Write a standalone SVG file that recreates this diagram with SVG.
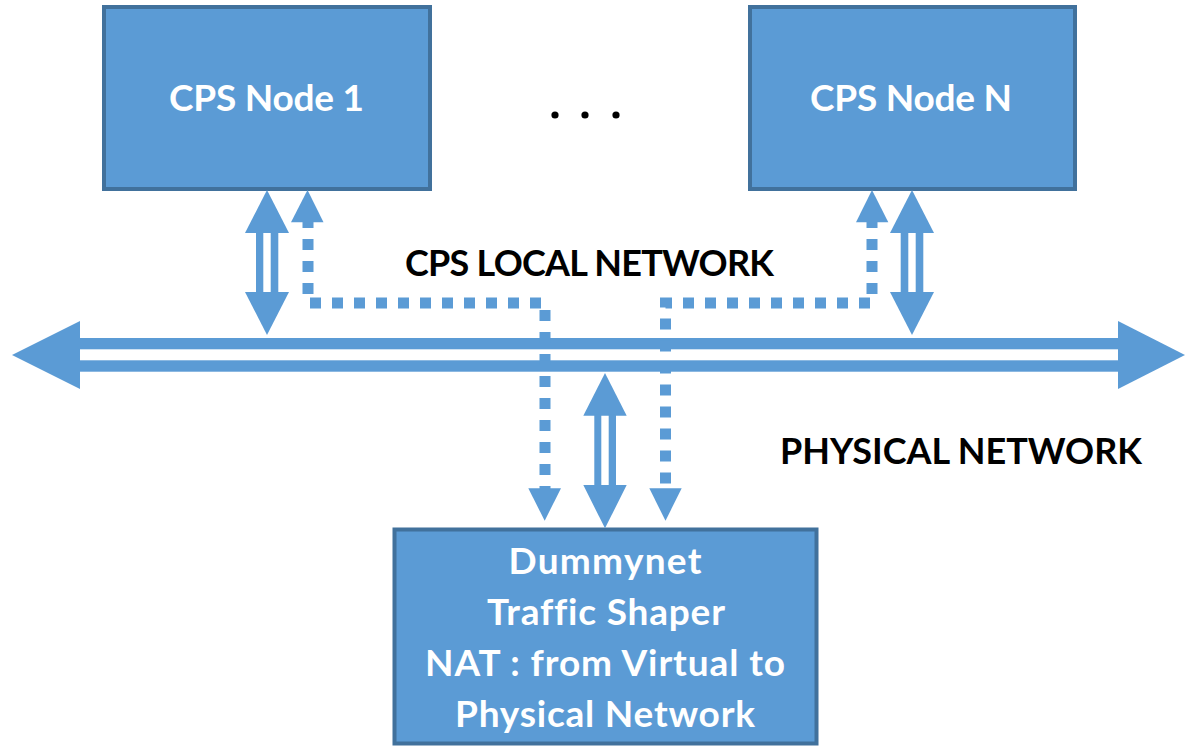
<svg xmlns="http://www.w3.org/2000/svg" width="1195" height="749" viewBox="0 0 1195 749">
<style>
.box{fill:#5B9BD5;stroke:#41719C;stroke-width:4}
.arr{fill:#5B9BD5}
.dot{fill:none;stroke:#5B9BD5;stroke-width:11;stroke-dasharray:11 11}
.wt{font-family:Lato,"Liberation Sans",sans-serif;font-weight:700;fill:#FFFFFF;text-anchor:middle;font-size:37px;font-variant-ligatures:none}
.bt{font-family:Lato,"Liberation Sans",sans-serif;font-weight:700;fill:#000000;font-size:36px}
</style>
<rect width="1195" height="749" fill="#FFFFFF"/>
<g id="node1">
<rect class="box" x="104" y="7" width="326" height="182"/>
<text class="wt" x="266.5" y="111" textLength="195">CPS Node 1</text>
</g>
<g id="nodeN">
<rect class="box" x="750" y="7" width="325" height="182"/>
<text class="wt" x="911" y="111" textLength="202">CPS Node N</text>
</g>
<g id="dummynet">
<rect class="box" x="394.5" y="529.5" width="422" height="214"/>
<text class="wt" x="605" y="574" textLength="193">Dummynet</text>
<text class="wt" x="606" y="625" textLength="238">Traffic Shaper</text>
<text class="wt" x="605" y="676" textLength="360">NAT : from Virtual to</text>
<text class="wt" x="605" y="727" textLength="300">Physical Network</text>
</g>
<g id="ellipsis" fill="#000000">
<circle cx="555" cy="115" r="3.6"/>
<circle cx="585" cy="115" r="3.6"/>
<circle cx="616" cy="115" r="3.6"/>
</g>
<g id="labels">
<text class="bt" x="405" y="275.5" textLength="369">CPS LOCAL NETWORK</text>
<text class="bt" x="780" y="463.5" textLength="362">PHYSICAL NETWORK</text>
</g>
<g id="connectors">
<!-- physical bus -->
<rect class="arr" x="79" y="338" width="1040" height="11.3"/>
<rect class="arr" x="79" y="360.3" width="1040" height="11.4"/>
<polygon class="arr" points="12,355 80,321 80,389"/>
<polygon class="arr" points="1118,321 1185,355 1118,389"/>
<!-- node1 double arrow -->
<polygon class="arr" points="267,190 245,233 289,233"/>
<rect class="arr" x="256" y="232" width="7.3" height="61"/>
<rect class="arr" x="270.7" y="232" width="7.6" height="61"/>
<polygon class="arr" points="245,292 289,292 267,335"/>
<!-- nodeN double arrow -->
<polygon class="arr" points="912,190 890,233 934,233"/>
<rect class="arr" x="900.7" y="232" width="7.6" height="61"/>
<rect class="arr" x="915.7" y="232" width="7.6" height="61"/>
<polygon class="arr" points="890,292 934,292 912,335"/>
<!-- dummynet double arrow -->
<polygon class="arr" points="605,373 583.3,415.7 626.7,415.7"/>
<rect class="arr" x="594.3" y="414.7" width="7" height="71.3"/>
<rect class="arr" x="608.7" y="414.7" width="7.3" height="71.3"/>
<polygon class="arr" points="583.3,485 626.7,485 605,528.3"/>
<!-- dotted virtual links -->
<path class="dot" d="M308,217 V303 H545 V493"/>
<polygon class="arr" points="307.5,190 291,222.3 323.5,222.3"/>
<polygon class="arr" points="528.3,488.3 561,488.3 544.7,520.7"/>
<path class="dot" d="M872,217 V303 H665.5 V493"/>
<polygon class="arr" points="872,190 856,222.3 888.3,222.3"/>
<polygon class="arr" points="649.3,488.3 681.7,488.3 665.5,520.7"/>
</g>
</svg>
